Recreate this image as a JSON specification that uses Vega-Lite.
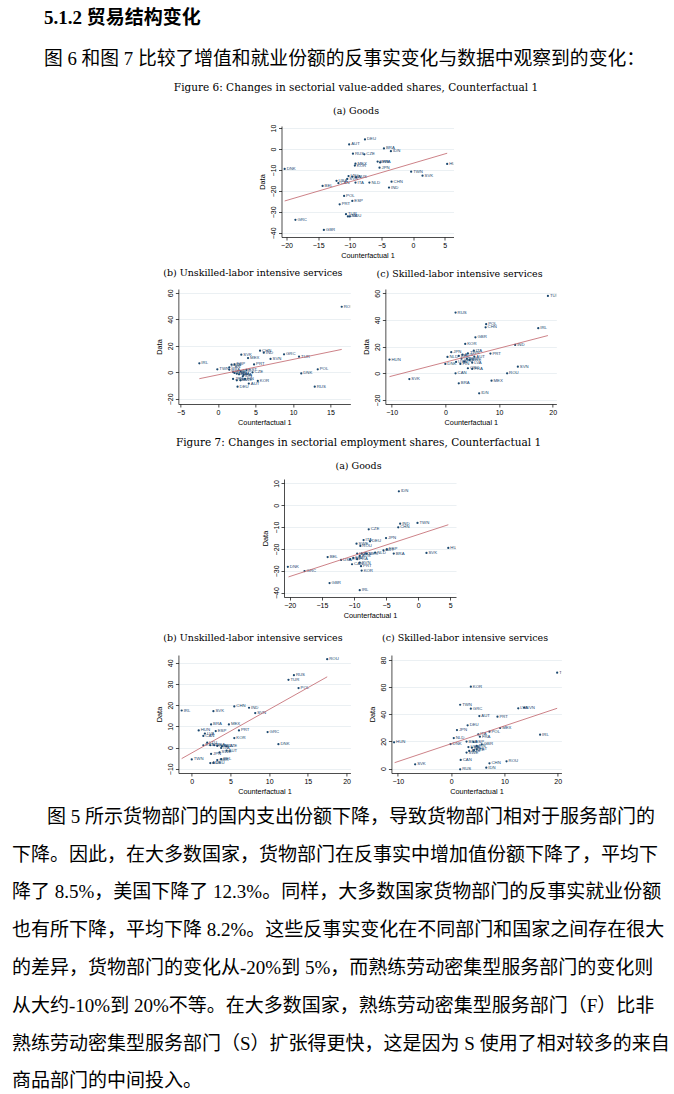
{
"$schema": "https://vega.github.io/schema/vega-lite/v6.json",
"background": "white",
"padding": {"left": 12, "top": 9, "right": 5, "bottom": 2},
"title": {"text": "5.1.2 贸易结构变化", "subtitle": "图 6 和图 7 比较了增值和就业份额的反事实变化与数据中观察到的变化：", "anchor": "start", "frame": "group", "dx": -134, "offset": 14, "font": "Liberation Serif, Noto Sans CJK SC", "fontSize": 19, "fontWeight": "bold", "subtitleFont": "Liberation Serif, Noto Sans CJK SC", "subtitleFontSize": 18.8, "subtitleFontWeight": "normal", "subtitlePadding": 22},
"datasets": {
"pts": [
{"p":"6a","c":"DEU","x":-7.6,"y":4.6},{"p":"6a","c":"AUT","x":-10.1,"y":2.2},{"p":"6a","c":"BRA","x":-4.6,"y":0.3},{"p":"6a","c":"IDN","x":-3.5,"y":-1.0},{"p":"6a","c":"RUS","x":-9.5,"y":-2.2},{"p":"6a","c":"CZE","x":-7.7,"y":-2.5},{"p":"6a","c":"HUN","x":5.4,"y":-7.1},{"p":"6a","c":"DNK","x":-20.3,"y":-9.5},{"p":"6a","c":"MEX","x":-9.1,"y":-7.0},{"p":"6a","c":"KOR","x":-9.2,"y":-7.9},{"p":"6a","c":"SWE","x":-5.6,"y":-6.0},{"p":"6a","c":"FRA","x":-5.2,"y":-6.4},{"p":"6a","c":"JPN","x":-5.3,"y":-8.9},{"p":"6a","c":"TWN","x":-0.3,"y":-10.8},{"p":"6a","c":"SVK","x":1.5,"y":-12.7},{"p":"6a","c":"CHN","x":-3.4,"y":-15.6},{"p":"6a","c":"IND","x":-3.8,"y":-18.4},{"p":"6a","c":"NLD","x":-6.9,"y":-16.0},{"p":"6a","c":"ITA","x":-9.1,"y":-16.0},{"p":"6a","c":"LTU","x":-10.2,"y":-12.9},{"p":"6a","c":"FIN","x":-9.6,"y":-13.2},{"p":"6a","c":"AUS","x":-9.0,"y":-13.5},{"p":"6a","c":"SVN","x":-10.4,"y":-14.3},{"p":"6a","c":"USA","x":-12.1,"y":-15.2},{"p":"6a","c":"CAN","x":-11.8,"y":-16.3},{"p":"6a","c":"BEL","x":-14.3,"y":-17.6},{"p":"6a","c":"POL","x":-10.9,"y":-22.4},{"p":"6a","c":"ESP","x":-9.6,"y":-24.8},{"p":"6a","c":"PRT","x":-11.6,"y":-26.4},{"p":"6a","c":"TUR","x":-10.6,"y":-31.1},{"p":"6a","c":"LVA","x":-10.3,"y":-32.2},{"p":"6a","c":"ROU","x":-10.0,"y":-32.2},{"p":"6a","c":"GRC","x":-18.6,"y":-33.8},{"p":"6a","c":"GBR","x":-14.1,"y":-38.6},
{"p":"6b","c":"ROU","x":16.5,"y":49.5},{"p":"6b","c":"IRL","x":-2.5,"y":6.8},{"p":"6b","c":"CHN","x":5.6,"y":16.3},{"p":"6b","c":"IND","x":6.1,"y":14.8},{"p":"6b","c":"SVK","x":3.1,"y":13.3},{"p":"6b","c":"MEX","x":4.0,"y":10.8},{"p":"6b","c":"GRC","x":8.8,"y":13.6},{"p":"6b","c":"TUR","x":10.8,"y":11.8},{"p":"6b","c":"SVN","x":7.0,"y":10.1},{"p":"6b","c":"PRT","x":4.8,"y":6.0},{"p":"6b","c":"DNK","x":11.1,"y":-0.8},{"p":"6b","c":"POL","x":13.3,"y":2.3},{"p":"6b","c":"RUS","x":12.9,"y":-10.8},{"p":"6b","c":"KOR","x":5.3,"y":-6.5},{"p":"6b","c":"AUT","x":4.1,"y":-8.5},{"p":"6b","c":"DEU","x":2.6,"y":-10.8},{"p":"6b","c":"TWN","x":-0.1,"y":2.3},{"p":"6b","c":"ESP","x":2.2,"y":6.0},{"p":"6b","c":"LVA","x":1.8,"y":5.8},{"p":"6b","c":"CAN","x":1.5,"y":3.8},{"p":"6b","c":"CZE","x":4.6,"y":0.0},{"p":"6b","c":"ITA","x":3.4,"y":-2.0},{"p":"6b","c":"BRA","x":1.5,"y":2.0},{"p":"6b","c":"HUN","x":2.0,"y":0.2},{"p":"6b","c":"USA","x":2.5,"y":-1.0},{"p":"6b","c":"NLD","x":3.0,"y":1.0},{"p":"6b","c":"FRA","x":2.8,"y":-1.5},{"p":"6b","c":"JPN","x":2.0,"y":-5.0},{"p":"6b","c":"BEL","x":2.5,"y":-6.0},{"p":"6b","c":"SWE","x":3.0,"y":-6.0},{"p":"6b","c":"FIN","x":3.6,"y":-5.0},{"p":"6b","c":"GBR","x":2.2,"y":-0.5},{"p":"6b","c":"EST","x":3.8,"y":1.8},{"p":"6b","c":"IDN","x":3.3,"y":-3.0},
{"p":"6c","c":"TUR","x":19.1,"y":58},{"p":"6c","c":"RUS","x":1.9,"y":45.5},{"p":"6c","c":"POL","x":7.6,"y":36.8},{"p":"6c","c":"CHN","x":7.5,"y":34.5},{"p":"6c","c":"IRL","x":17.3,"y":33.8},{"p":"6c","c":"GBR","x":5.6,"y":27},{"p":"6c","c":"KOR","x":3.7,"y":22},{"p":"6c","c":"IND","x":13.0,"y":21.3},{"p":"6c","c":"PRT","x":8.4,"y":14.8},{"p":"6c","c":"JPN","x":1.1,"y":15.8},{"p":"6c","c":"ITA","x":5.3,"y":17},{"p":"6c","c":"HUN","x":-10.4,"y":10.3},{"p":"6c","c":"DNK","x":0,"y":7},{"p":"6c","c":"SVN","x":13.5,"y":5},{"p":"6c","c":"ROU","x":11.5,"y":0},{"p":"6c","c":"CAN","x":1.9,"y":0},{"p":"6c","c":"GRC","x":4.2,"y":3.8},{"p":"6c","c":"FRA","x":5.0,"y":3.3},{"p":"6c","c":"SVK","x":-6.7,"y":-4.3},{"p":"6c","c":"MEX","x":8.6,"y":-5.5},{"p":"6c","c":"BRA","x":2.5,"y":-7.5},{"p":"6c","c":"IDN","x":6.3,"y":-15},{"p":"6c","c":"NLD","x":0.4,"y":12.3},{"p":"6c","c":"AUT","x":5.4,"y":12.5},{"p":"6c","c":"BEL","x":2.5,"y":13},{"p":"6c","c":"CZE","x":3.0,"y":11},{"p":"6c","c":"ESP","x":3.5,"y":9},{"p":"6c","c":"DEU","x":4.0,"y":11},{"p":"6c","c":"FIN","x":2.8,"y":7},{"p":"6c","c":"USA","x":2.0,"y":8.5},{"p":"6c","c":"SWE","x":4.5,"y":10},{"p":"6c","c":"LVA","x":5.0,"y":8},{"p":"6c","c":"AUS","x":3.2,"y":14},{"p":"6c","c":"TWN","x":4.2,"y":15},
{"p":"7a","c":"IDN","x":-3.0,"y":6.4},{"p":"7a","c":"IND","x":-2.8,"y":-8.4},{"p":"7a","c":"TWN","x":-0.1,"y":-8.1},{"p":"7a","c":"CHN","x":-3.1,"y":-10.1},{"p":"7a","c":"CZE","x":-7.7,"y":-11.0},{"p":"7a","c":"JPN","x":-5.0,"y":-15.0},{"p":"7a","c":"ITA","x":-8.5,"y":-15.9},{"p":"7a","c":"DEU","x":-7.5,"y":-16.5},{"p":"7a","c":"SWE","x":-9.6,"y":-17.6},{"p":"7a","c":"ROU","x":-9.0,"y":-18.6},{"p":"7a","c":"HUN","x":4.7,"y":-19.5},{"p":"7a","c":"SVK","x":1.3,"y":-21.8},{"p":"7a","c":"BRA","x":-3.8,"y":-22.1},{"p":"7a","c":"BEL","x":-14.1,"y":-23.7},{"p":"7a","c":"DNK","x":-20.3,"y":-28.2},{"p":"7a","c":"GRC","x":-17.7,"y":-30.1},{"p":"7a","c":"GBR","x":-13.8,"y":-35.6},{"p":"7a","c":"IRL","x":-9.1,"y":-38.9},{"p":"7a","c":"KOR","x":-8.8,"y":-29.9},{"p":"7a","c":"USA","x":-12.0,"y":-25.0},{"p":"7a","c":"EST","x":-10.6,"y":-24.7},{"p":"7a","c":"FIN","x":-10.1,"y":-24.1},{"p":"7a","c":"LVA","x":-9.5,"y":-22.1},{"p":"7a","c":"POL","x":-8.8,"y":-22.1},{"p":"7a","c":"MEX","x":-8.0,"y":-22.1},{"p":"7a","c":"NLD","x":-6.7,"y":-21.7},{"p":"7a","c":"AUT","x":-5.4,"y":-20.6},{"p":"7a","c":"ESP","x":-4.9,"y":-20.2},{"p":"7a","c":"CAN","x":-10.3,"y":-27.0},{"p":"7a","c":"SVN","x":-9.1,"y":-26.3},{"p":"7a","c":"PRT","x":-8.9,"y":-27.9},{"p":"7a","c":"FRA","x":-9.5,"y":-24.7},{"p":"7a","c":"AUS","x":-9.1,"y":-23.2},
{"p":"7b","c":"ROU","x":17.5,"y":41.7},{"p":"7b","c":"RUS","x":13.2,"y":34.2},{"p":"7b","c":"TUR","x":12.5,"y":32},{"p":"7b","c":"POL","x":13.8,"y":28.1},{"p":"7b","c":"CHN","x":5.5,"y":19.4},{"p":"7b","c":"IND","x":7.4,"y":18.8},{"p":"7b","c":"IRL","x":-1.3,"y":17.5},{"p":"7b","c":"SVK","x":2.8,"y":17.2},{"p":"7b","c":"SVN","x":8.2,"y":16.3},{"p":"7b","c":"BRA","x":2.5,"y":10.9},{"p":"7b","c":"MEX","x":4.8,"y":10.9},{"p":"7b","c":"HUN","x":0.9,"y":8.1},{"p":"7b","c":"ESP","x":3.1,"y":7.8},{"p":"7b","c":"PRT","x":6.1,"y":8.1},{"p":"7b","c":"GRC","x":9.8,"y":7.3},{"p":"7b","c":"KOR","x":5.5,"y":4.5},{"p":"7b","c":"DNK","x":11.2,"y":1.6},{"p":"7b","c":"LVA","x":1.7,"y":6.6},{"p":"7b","c":"CAN","x":1.5,"y":5.5},{"p":"7b","c":"TWN","x":0,"y":-5.6},{"p":"7b","c":"EST","x":1.5,"y":1.1},{"p":"7b","c":"LTU","x":2.0,"y":2.3},{"p":"7b","c":"FIN","x":2.4,"y":1.1},{"p":"7b","c":"USA","x":2.9,"y":1.1},{"p":"7b","c":"NLD","x":3.3,"y":0.8},{"p":"7b","c":"FRA","x":3.9,"y":0.6},{"p":"7b","c":"CZE","x":4.5,"y":0.6},{"p":"7b","c":"AUT","x":4.5,"y":-1.4},{"p":"7b","c":"SWE","x":3.6,"y":-2.3},{"p":"7b","c":"JPN","x":2.5,"y":-3.0},{"p":"7b","c":"ITA","x":3.8,"y":-0.2},{"p":"7b","c":"BEL","x":3.8,"y":-5.5},{"p":"7b","c":"GBR","x":3.3,"y":-5.9},{"p":"7b","c":"DEU","x":2.8,"y":-7.2},{"p":"7b","c":"AUS","x":2.4,"y":-7.3},
{"p":"7c","c":"TUR","x":19.9,"y":70.6},{"p":"7c","c":"KOR","x":3.7,"y":60.3},{"p":"7c","c":"TWN","x":1.7,"y":47},{"p":"7c","c":"GRC","x":3.7,"y":44.1},{"p":"7c","c":"LVA","x":12.6,"y":44.4},{"p":"7c","c":"SVN","x":13.7,"y":44.9},{"p":"7c","c":"AUT","x":5.3,"y":38.7},{"p":"7c","c":"PRT","x":8.7,"y":38.2},{"p":"7c","c":"DEU","x":3.1,"y":31.9},{"p":"7c","c":"JPN","x":1.1,"y":28.4},{"p":"7c","c":"MEX","x":9.2,"y":29.9},{"p":"7c","c":"POL","x":7.2,"y":27.2},{"p":"7c","c":"IRL","x":16.7,"y":25},{"p":"7c","c":"NLD","x":0.5,"y":22.5},{"p":"7c","c":"HUN","x":-10.7,"y":19.4},{"p":"7c","c":"DNK","x":-0.1,"y":18.1},{"p":"7c","c":"SVK","x":-6.75,"y":3.2},{"p":"7c","c":"CAN","x":1.8,"y":6.4},{"p":"7c","c":"CHN","x":7.2,"y":3.9},{"p":"7c","c":"ROU","x":10.4,"y":5.4},{"p":"7c","c":"IDN","x":6.6,"y":0.7},{"p":"7c","c":"RUS","x":1.7,"y":-0.5},{"p":"7c","c":"ITA","x":5.1,"y":25.2},{"p":"7c","c":"FRA","x":5.4,"y":23.5},{"p":"7c","c":"GBR","x":5.75,"y":17.9},{"p":"7c","c":"BRA","x":2.9,"y":19.9},{"p":"7c","c":"ESP","x":4.2,"y":19.6},{"p":"7c","c":"USA","x":3.25,"y":15.9},{"p":"7c","c":"BEL","x":3.9,"y":15.4},{"p":"7c","c":"FIN","x":4.8,"y":16.7},{"p":"7c","c":"CZE","x":4.3,"y":13.7},{"p":"7c","c":"AUS","x":3.4,"y":13},{"p":"7c","c":"SWE","x":2.9,"y":11.8},{"p":"7c","c":"EST","x":4.8,"y":14.2}
],
"fit": [
{"p":"6a","x":-20.3,"y":-24.8},{"p":"6a","x":5.4,"y":-2.0},
{"p":"6b","x":-2.5,"y":-4.8},{"p":"6b","x":16.5,"y":17.3},
{"p":"6c","x":-10.4,"y":-2.5},{"p":"6c","x":19.1,"y":28.3},
{"p":"7a","x":-20.2,"y":-32.8},{"p":"7a","x":4.7,"y":-8.9},
{"p":"7b","x":-1.3,"y":-5.2},{"p":"7b","x":17.5,"y":33.4},
{"p":"7c","x":-10.6,"y":4.4},{"p":"7c","x":19.9,"y":44.4}
],
"stat": [
{"p":"6a","t":"Slope = .89 (.34)\nR² = .17"},
{"p":"6b","t":"Slope = 1.15 (.85)\nR² = .19"},
{"p":"6c","t":"Slope = 1.02 (.55)\nR² = .15"},
{"p":"7a","t":"Slope = .95 (.29)\nR² = .3"},
{"p":"7b","t":"Slope = 2.04 (.42)\nR² = .51"},
{"p":"7c","t":"Slope = 1.28 (.54)\nR² = .19"}
]
},
"spacing": 12,
"vconcat": [
{
"title": {"text": "Figure 6: Changes in sectorial value-added shares, Counterfactual 1", "fontSize": 10.5, "offset": 12},
"spacing": 9,
"center": true,
"vconcat": [
{
"width": 172, "height": 111,
"title": {"text": "(a) Goods"},
"encoding": {
"x": {"field": "x", "type": "quantitative", "scale": {"domain": [-20.8, 6.4], "nice": false, "zero": false}, "axis": {"values": [-20, -15, -10, -5, 0, 5], "title": "Counterfactual 1"}},
"y": {"field": "y", "type": "quantitative", "scale": {"domain": [-42, 11], "nice": false, "zero": false}, "axis": {"values": [-40, -30, -20, -10, 0, 10], "title": "Data"}}
},
"layer": [
{"data": {"name": "pts"}, "transform": [{"filter": "datum.p === '6a'"}], "mark": {"type": "circle", "size": 5, "color": "#1a476f", "opacity": 1}},
{"data": {"name": "pts"}, "transform": [{"filter": "datum.p === '6a'"}], "mark": {"type": "text", "align": "left", "baseline": "middle", "dx": 2, "fontSize": 4.3, "font": "Liberation Sans", "color": "#1a476f", "clip": true}, "encoding": {"text": {"field": "c", "type": "nominal"}}},
{"data": {"name": "fit"}, "transform": [{"filter": "datum.p === '6a'"}], "mark": {"type": "line", "color": "#c0626a", "strokeWidth": 0.8}},
{"data": {"name": "stat"}, "transform": [{"filter": "datum.p === '6a'"}], "mark": {"type": "rect", "fill": "#ffffff", "stroke": "#555555", "strokeWidth": 0.7}, "encoding": {"x": {"datum": -20.1, "type": "quantitative"}, "x2": {"datum": -11.6}, "y": {"datum": 4.3, "type": "quantitative"}, "y2": {"datum": -4.3}}},
{"data": {"name": "stat"}, "transform": [{"filter": "datum.p === '6a'"}], "mark": {"type": "text", "align": "left", "baseline": "top", "dx": 3.5, "dy": 3, "fontSize": 6, "font": "Liberation Sans", "color": "#000000", "lineBreak": "\n", "lineHeight": 6.8}, "encoding": {"x": {"datum": -20.1, "type": "quantitative"}, "y": {"datum": 4.3, "type": "quantitative"}, "text": {"field": "t", "type": "nominal"}}}
]
},
{
"spacing": 35,
"bounds": "flush",
"hconcat": [
{
"width": 172, "height": 115,
"title": {"text": "(b) Unskilled-labor intensive services", "offset": 11},
"encoding": {
"x": {"field": "x", "type": "quantitative", "scale": {"domain": [-5.3, 17.65], "nice": false, "zero": false}, "axis": {"values": [-5, 0, 5, 10, 15], "title": "Counterfactual 1"}},
"y": {"field": "y", "type": "quantitative", "scale": {"domain": [-23.9, 62.9], "nice": false, "zero": false}, "axis": {"values": [-20, 0, 20, 40, 60], "title": "Data"}}
},
"layer": [
{"data": {"name": "pts"}, "transform": [{"filter": "datum.p === '6b'"}], "mark": {"type": "circle", "size": 5, "color": "#1a476f", "opacity": 1}},
{"data": {"name": "pts"}, "transform": [{"filter": "datum.p === '6b'"}], "mark": {"type": "text", "align": "left", "baseline": "middle", "dx": 2, "fontSize": 4.3, "font": "Liberation Sans", "color": "#1a476f", "clip": true}, "encoding": {"text": {"field": "c", "type": "nominal"}}},
{"data": {"name": "fit"}, "transform": [{"filter": "datum.p === '6b'"}], "mark": {"type": "line", "color": "#c0626a", "strokeWidth": 0.8}},
{"data": {"name": "stat"}, "transform": [{"filter": "datum.p === '6b'"}], "mark": {"type": "rect", "fill": "#ffffff", "stroke": "#555555", "strokeWidth": 0.7}, "encoding": {"x": {"datum": 0.35, "type": "quantitative"}, "x2": {"datum": 7.65}, "y": {"datum": 40.7, "type": "quantitative"}, "y2": {"datum": 28.9}}},
{"data": {"name": "stat"}, "transform": [{"filter": "datum.p === '6b'"}], "mark": {"type": "text", "align": "left", "baseline": "top", "dx": 3.5, "dy": 3, "fontSize": 6, "font": "Liberation Sans", "color": "#000000", "lineBreak": "\n", "lineHeight": 6.8}, "encoding": {"x": {"datum": 0.35, "type": "quantitative"}, "y": {"datum": 40.7, "type": "quantitative"}, "text": {"field": "t", "type": "nominal"}}}
]
},
{
"width": 171, "height": 115,
"title": {"text": "(c) Skilled-labor intensive services", "offset": 11},
"encoding": {
"x": {"field": "x", "type": "quantitative", "scale": {"domain": [-11.17, 20.67], "nice": false, "zero": false}, "axis": {"values": [-10, 0, 10, 20], "title": "Counterfactual 1"}},
"y": {"field": "y", "type": "quantitative", "scale": {"domain": [-23, 63.2], "nice": false, "zero": false}, "axis": {"values": [-20, 0, 20, 40, 60], "title": "Data"}}
},
"layer": [
{"data": {"name": "pts"}, "transform": [{"filter": "datum.p === '6c'"}], "mark": {"type": "circle", "size": 5, "color": "#1a476f", "opacity": 1}},
{"data": {"name": "pts"}, "transform": [{"filter": "datum.p === '6c'"}], "mark": {"type": "text", "align": "left", "baseline": "middle", "dx": 2, "fontSize": 4.3, "font": "Liberation Sans", "color": "#1a476f", "clip": true}, "encoding": {"text": {"field": "c", "type": "nominal"}}},
{"data": {"name": "fit"}, "transform": [{"filter": "datum.p === '6c'"}], "mark": {"type": "line", "color": "#c0626a", "strokeWidth": 0.8}},
{"data": {"name": "stat"}, "transform": [{"filter": "datum.p === '6c'"}], "mark": {"type": "rect", "fill": "#ffffff", "stroke": "#555555", "strokeWidth": 0.7}, "encoding": {"x": {"datum": -9.3, "type": "quantitative"}, "x2": {"datum": 0.75}, "y": {"datum": 36.3, "type": "quantitative"}, "y2": {"datum": 23.8}}},
{"data": {"name": "stat"}, "transform": [{"filter": "datum.p === '6c'"}], "mark": {"type": "text", "align": "left", "baseline": "top", "dx": 3.5, "dy": 3, "fontSize": 6, "font": "Liberation Sans", "color": "#000000", "lineBreak": "\n", "lineHeight": 6.8}, "encoding": {"x": {"datum": -9.3, "type": "quantitative"}, "y": {"datum": 36.3, "type": "quantitative"}, "text": {"field": "t", "type": "nominal"}}}
]
}
]
}
]
},
{
"title": {"text": ["下降。因此，在大多数国家，货物部门在反事实中增加值份额下降了，平均下", "降了 8.5%，美国下降了 12.3%。同样，大多数国家货物部门的反事实就业份额", "也有所下降，平均下降 8.2%。这些反事实变化在不同部门和国家之间存在很大", "的差异，货物部门的变化从-20%到 5%，而熟练劳动密集型服务部门的变化则", "从大约-10%到 20%不等。在大多数国家，熟练劳动密集型服务部门（F）比非", "熟练劳动密集型服务部门（S）扩张得更快，这是因为 S 使用了相对较多的来自", "商品部门的中间投入。"], "orient": "bottom", "anchor": "start", "frame": "group", "dx": -166, "offset": 18.8, "font": "Liberation Serif, Noto Sans CJK SC", "fontSize": 19, "fontWeight": "normal", "lineHeight": 37.8, "baseline": "top"},
"vconcat": [
{
"title": {"text": "图 5 所示货物部门的国内支出份额下降，导致货物部门相对于服务部门的", "orient": "bottom", "anchor": "start", "frame": "group", "dx": -131, "offset": 13, "font": "Liberation Serif, Noto Sans CJK SC", "fontSize": 19, "fontWeight": "normal", "baseline": "top"},
"vconcat": [
{
"title": {"text": "Figure 7: Changes in sectorial employment shares, Counterfactual 1", "fontSize": 10.5, "offset": 12},
"spacing": 13,
"center": true,
"vconcat": [
{
"width": 172, "height": 118,
"title": {"text": "(a) Goods"},
"encoding": {
"x": {"field": "x", "type": "quantitative", "scale": {"domain": [-20.9, 5.9], "nice": false, "zero": false}, "axis": {"values": [-20, -15, -10, -5, 0, 5], "title": "Counterfactual 1"}},
"y": {"field": "y", "type": "quantitative", "scale": {"domain": [-42, 12.05], "nice": false, "zero": false}, "axis": {"values": [-40, -30, -20, -10, 0, 10], "title": "Data"}}
},
"layer": [
{"data": {"name": "pts"}, "transform": [{"filter": "datum.p === '7a'"}], "mark": {"type": "circle", "size": 5, "color": "#1a476f", "opacity": 1}},
{"data": {"name": "pts"}, "transform": [{"filter": "datum.p === '7a'"}], "mark": {"type": "text", "align": "left", "baseline": "middle", "dx": 2, "fontSize": 4.3, "font": "Liberation Sans", "color": "#1a476f", "clip": true}, "encoding": {"text": {"field": "c", "type": "nominal"}}},
{"data": {"name": "fit"}, "transform": [{"filter": "datum.p === '7a'"}], "mark": {"type": "line", "color": "#c0626a", "strokeWidth": 0.8}},
{"data": {"name": "stat"}, "transform": [{"filter": "datum.p === '7a'"}], "mark": {"type": "rect", "fill": "#ffffff", "stroke": "#555555", "strokeWidth": 0.7}, "encoding": {"x": {"datum": -20, "type": "quantitative"}, "x2": {"datum": -11.6}, "y": {"datum": 4.9, "type": "quantitative"}, "y2": {"datum": -3.8}}},
{"data": {"name": "stat"}, "transform": [{"filter": "datum.p === '7a'"}], "mark": {"type": "text", "align": "left", "baseline": "top", "dx": 3.5, "dy": 3, "fontSize": 6, "font": "Liberation Sans", "color": "#000000", "lineBreak": "\n", "lineHeight": 6.8}, "encoding": {"x": {"datum": -20, "type": "quantitative"}, "y": {"datum": 4.9, "type": "quantitative"}, "text": {"field": "t", "type": "nominal"}}}
]
},
{
"spacing": 41,
"bounds": "flush",
"hconcat": [
{
"width": 172, "height": 118,
"title": {"text": "(b) Unskilled-labor intensive services", "offset": 13},
"encoding": {
"x": {"field": "x", "type": "quantitative", "scale": {"domain": [-1.72, 20.5], "nice": false, "zero": false}, "axis": {"values": [0, 5, 10, 15, 20], "title": "Counterfactual 1"}},
"y": {"field": "y", "type": "quantitative", "scale": {"domain": [-12.0, 43.7], "nice": false, "zero": false}, "axis": {"values": [-10, 0, 10, 20, 30, 40], "title": "Data"}}
},
"layer": [
{"data": {"name": "pts"}, "transform": [{"filter": "datum.p === '7b'"}], "mark": {"type": "circle", "size": 5, "color": "#1a476f", "opacity": 1}},
{"data": {"name": "pts"}, "transform": [{"filter": "datum.p === '7b'"}], "mark": {"type": "text", "align": "left", "baseline": "middle", "dx": 2, "fontSize": 4.3, "font": "Liberation Sans", "color": "#1a476f", "clip": true}, "encoding": {"text": {"field": "c", "type": "nominal"}}},
{"data": {"name": "fit"}, "transform": [{"filter": "datum.p === '7b'"}], "mark": {"type": "line", "color": "#c0626a", "strokeWidth": 0.8}},
{"data": {"name": "stat"}, "transform": [{"filter": "datum.p === '7b'"}], "mark": {"type": "rect", "fill": "#ffffff", "stroke": "#555555", "strokeWidth": 0.7}, "encoding": {"x": {"datum": 0, "type": "quantitative"}, "x2": {"datum": 7.6}, "y": {"datum": 39.4, "type": "quantitative"}, "y2": {"datum": 29.2}}},
{"data": {"name": "stat"}, "transform": [{"filter": "datum.p === '7b'"}], "mark": {"type": "text", "align": "left", "baseline": "top", "dx": 3.5, "dy": 3, "fontSize": 6, "font": "Liberation Sans", "color": "#000000", "lineBreak": "\n", "lineHeight": 6.8}, "encoding": {"x": {"datum": 0, "type": "quantitative"}, "y": {"datum": 39.4, "type": "quantitative"}, "text": {"field": "t", "type": "nominal"}}}
]
},
{
"width": 170, "height": 118,
"title": {"text": "(c) Skilled-labor intensive services", "offset": 13},
"encoding": {
"x": {"field": "x", "type": "quantitative", "scale": {"domain": [-11.2, 20.7], "nice": false, "zero": false}, "axis": {"values": [-10, 0, 10, 20], "title": "Counterfactual 1"}},
"y": {"field": "y", "type": "quantitative", "scale": {"domain": [-3.2, 83.6], "nice": false, "zero": false}, "axis": {"values": [0, 20, 40, 60, 80], "title": "Data"}}
},
"layer": [
{"data": {"name": "pts"}, "transform": [{"filter": "datum.p === '7c'"}], "mark": {"type": "circle", "size": 5, "color": "#1a476f", "opacity": 1}},
{"data": {"name": "pts"}, "transform": [{"filter": "datum.p === '7c'"}], "mark": {"type": "text", "align": "left", "baseline": "middle", "dx": 2, "fontSize": 4.3, "font": "Liberation Sans", "color": "#1a476f", "clip": true}, "encoding": {"text": {"field": "c", "type": "nominal"}}},
{"data": {"name": "fit"}, "transform": [{"filter": "datum.p === '7c'"}], "mark": {"type": "line", "color": "#c0626a", "strokeWidth": 0.8}},
{"data": {"name": "stat"}, "transform": [{"filter": "datum.p === '7c'"}], "mark": {"type": "rect", "fill": "#ffffff", "stroke": "#555555", "strokeWidth": 0.7}, "encoding": {"x": {"datum": -10, "type": "quantitative"}, "x2": {"datum": 0.56}, "y": {"datum": 51.5, "type": "quantitative"}, "y2": {"datum": 38.2}}},
{"data": {"name": "stat"}, "transform": [{"filter": "datum.p === '7c'"}], "mark": {"type": "text", "align": "left", "baseline": "top", "dx": 3.5, "dy": 3, "fontSize": 6, "font": "Liberation Sans", "color": "#000000", "lineBreak": "\n", "lineHeight": 6.8}, "encoding": {"x": {"datum": -10, "type": "quantitative"}, "y": {"datum": 51.5, "type": "quantitative"}, "text": {"field": "t", "type": "nominal"}}}
]
}
]
}
]
}
]
}
]
}
],
"config": {
"view": {"stroke": null},
"axis": {"domainColor": "#000000", "domainWidth": 0.7, "tickColor": "#000000", "tickWidth": 0.7, "tickSize": 3, "labelFont": "Liberation Sans", "labelFontSize": 7, "labelColor": "#000000", "labelPadding": 1.5, "labelFlush": false, "labelOverlap": false, "titleFont": "Liberation Sans", "titleFontSize": 7.3, "titleFontWeight": "normal", "titleColor": "#000000", "titlePadding": 3},
"axisX": {"grid": false},
"axisY": {"grid": true, "gridColor": "#e3eaee", "gridWidth": 0.7, "labelAngle": -90, "labelAlign": "center", "labelBaseline": "bottom", "labelPadding": 2},
"title": {"font": "DejaVu Serif", "fontSize": 9.5, "fontWeight": "normal", "color": "#000000", "anchor": "middle", "frame": "bounds", "offset": 9}
}
}
